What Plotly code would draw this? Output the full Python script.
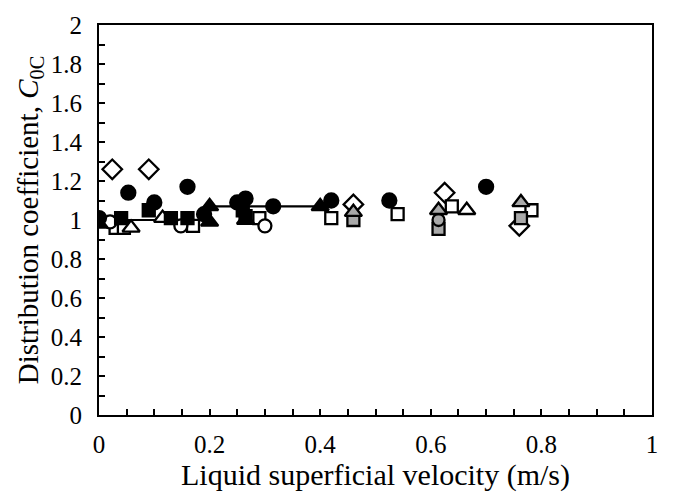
import plotly.graph_objects as go

# Measured distribution coefficient C0C against liquid superficial velocity
black_circle_x = [0.0, 0.053, 0.10, 0.16, 0.19, 0.25, 0.265, 0.315, 0.42, 0.525, 0.70]
black_circle_y = [1.01, 1.14, 1.09, 1.17, 1.03, 1.09, 1.11, 1.07, 1.10, 1.10, 1.17]

black_square_x = [0.04, 0.09, 0.13, 0.16, 0.26, 0.265]
black_square_y = [1.01, 1.05, 1.01, 1.01, 1.05, 1.02]

black_triangle_x = [0.0, 0.20, 0.20, 0.40]
black_triangle_y = [0.98, 1.07, 0.99, 1.07]

open_circle_x = [0.02, 0.148, 0.30]
open_circle_y = [0.99, 0.97, 0.97]

open_square_x = [0.03, 0.045, 0.17, 0.29, 0.42, 0.54, 0.638, 0.782]
open_square_y = [0.96, 0.96, 0.97, 1.01, 1.01, 1.03, 1.07, 1.05]

open_triangle_x = [0.058, 0.115, 0.265, 0.665]
open_triangle_y = [0.96, 1.01, 1.00, 1.05]

open_diamond_x = [0.024, 0.09, 0.46, 0.625, 0.76]
open_diamond_y = [1.26, 1.26, 1.08, 1.14, 0.97]

grey_triangle_x = [0.46, 0.614, 0.763]
grey_triangle_y = [1.04, 1.05, 1.09]

grey_circle_x = [0.614]
grey_circle_y = [1.00]

grey_square_x = [0.46, 0.614, 0.763]
grey_square_y = [1.00, 0.955, 1.01]

# Mean C0C over two velocity ranges
fit_low_x = [0.0, 0.20]
fit_low_y = [1.00, 1.00]
fit_high_x = [0.20, 0.41]
fit_high_y = [1.07, 1.07]

GREY = "#a9a9a9"
fig = go.Figure()

for fx, fy in [(fit_low_x, fit_low_y), (fit_high_x, fit_high_y)]:
    fig.add_trace(go.Scatter(x=fx, y=fy, mode="lines",
                             line=dict(color="black", width=2.2), showlegend=False))


def add_markers(xs, ys, symbol, fill, size):
    fig.add_trace(go.Scatter(
        x=xs, y=ys, mode="markers", showlegend=False,
        marker=dict(symbol=symbol, size=size, color=fill,
                    line=dict(color="black", width=2.3))))


add_markers(open_diamond_x, open_diamond_y, "diamond", "white", 15)
add_markers(open_square_x, open_square_y, "square", "white", 12)
add_markers(open_circle_x, open_circle_y, "circle", "white", 13)
add_markers(open_triangle_x, open_triangle_y, "triangle-up", "white", 15)
add_markers(grey_square_x, grey_square_y, "square", GREY, 12)
add_markers(grey_circle_x, grey_circle_y, "circle", GREY, 12)
add_markers(grey_triangle_x, grey_triangle_y, "triangle-up", GREY, 15)
add_markers(black_square_x, black_square_y, "square", "black", 12)
add_markers(black_triangle_x, black_triangle_y, "triangle-up", "black", 15)
add_markers(black_circle_x, black_circle_y, "circle", "black", 14)

FONT = "Liberation Serif"
axis_common = dict(
    showline=True, linecolor="black", linewidth=2, mirror=True,
    ticks="inside", ticklen=6, tickwidth=1.5, tickcolor="black",
    showgrid=False, zeroline=False,
    tickfont=dict(family=FONT, size=25, color="black"),
)

fig.update_xaxes(range=[0, 1], dtick=0.2, tick0=0,
                 minor=dict(dtick=0.05, ticks="inside", ticklen=6, tickwidth=1.5,
                            tickcolor="black"),
                 title=dict(text="Liquid superficial velocity (m/s)",
                            font=dict(family=FONT, size=30, color="black"), standoff=0),
                 ticklabelstandoff=6,
                 **axis_common)
fig.update_yaxes(range=[0, 2], dtick=0.2, tick0=0,
                 minor=dict(dtick=0.1, ticks="inside", ticklen=6, tickwidth=1.5,
                            tickcolor="black"),
                 title=dict(text="Distribution coefficient, <i>C</i><sub>0C</sub>",
                            font=dict(family=FONT, size=29, color="black"), standoff=4),
                 ticklabelstandoff=10,
                 **axis_common)

fig.update_layout(
    width=675, height=503,
    margin=dict(l=99, r=23, t=18, b=88),
    paper_bgcolor="white", plot_bgcolor="white",
)

fig.write_html("out.html")
